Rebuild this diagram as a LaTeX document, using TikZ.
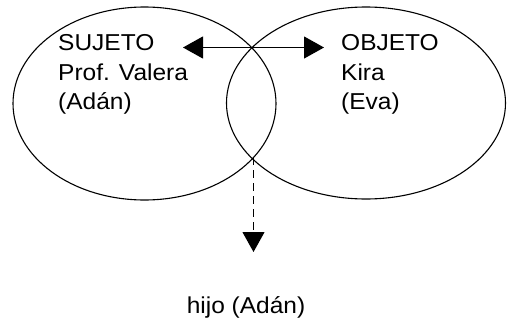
\documentclass[tikz,border=0pt]{standalone}
\usepackage{fontspec}
\setmainfont{Liberation Sans}[FakeStretch=1.065]
\usetikzlibrary{shapes.geometric,arrows.meta}
\tikzset{
  oval/.style={draw,ellipse,line width=1.1pt,inner sep=0pt,outer sep=0pt},
  txt/.style={anchor=base west,inner sep=0pt,font=\fontsize{23pt}{29pt}\selectfont},
  bigtip/.style={-{Triangle[length=20pt,width=22pt]}},
  conn/.style={line width=1.1pt}
}
\begin{document}
\begin{tikzpicture}[x=1pt,y=-1pt]
\useasboundingbox (0,0) rectangle (507,322);
\node[oval,minimum width=263pt,minimum height=193pt] (left) at (144.5,103.5) {};
\node[oval,minimum width=279pt,minimum height=192pt] (right) at (366,103) {};
\node[txt] (s1) at (58,50) {SUJETO};
\node[txt] (s2) at (58,80) {Prof. Valera};
\node[txt] (s3) at (58,109) {(Adán)};
\node[txt] (o1) at (341,50) {OBJETO};
\node[txt] (o2) at (341,80) {Kira};
\node[txt] (o3) at (341,109) {(Eva)};
\node[txt,anchor=base] (child) at (246,313) {hijo (Adán)};
\coordinate (top) at (253,47.5);
\coordinate (bot) at (253.5,157);
\coordinate (lt) at (183,47.5);
\coordinate (rt) at (324,47.5);
\coordinate (dt) at (253.5,252);
\draw[conn,bigtip] (top) -- (lt);
\draw[conn,bigtip] (top) -- (rt);
\draw[conn,bigtip,dash pattern=on 8pt off 5pt] (bot) -- (dt);
\end{tikzpicture}
\end{document}
